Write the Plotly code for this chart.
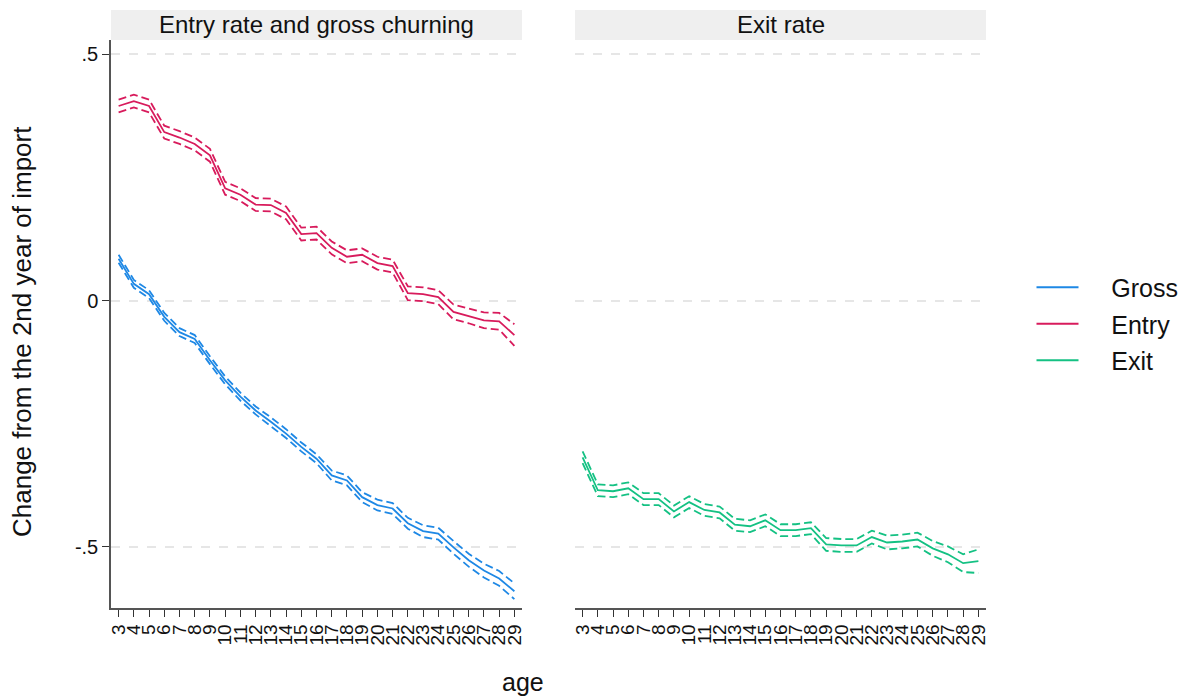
import plotly.graph_objects as go

ages = list(range(3, 30))

gross = [0.085, 0.034, 0.013, -0.033, -0.064, -0.078, -0.121, -0.162, -0.195, -0.223,
         -0.246, -0.270, -0.297, -0.321, -0.355, -0.365, -0.399, -0.415, -0.422, -0.452,
         -0.468, -0.473, -0.501, -0.527, -0.548, -0.564, -0.590]
gross_hi = [0.093, 0.042, 0.021, -0.025, -0.056, -0.070, -0.113, -0.154, -0.187, -0.215,
            -0.237, -0.261, -0.288, -0.312, -0.345, -0.355, -0.389, -0.404, -0.411, -0.441,
            -0.456, -0.461, -0.488, -0.514, -0.534, -0.549, -0.574]
gross_lo = [0.077, 0.026, 0.005, -0.041, -0.072, -0.086, -0.129, -0.170, -0.203, -0.231,
            -0.255, -0.279, -0.306, -0.330, -0.365, -0.375, -0.409, -0.426, -0.433, -0.463,
            -0.480, -0.485, -0.514, -0.540, -0.562, -0.579, -0.606]

entry = [0.395, 0.405, 0.395, 0.342, 0.331, 0.318, 0.295, 0.228, 0.215, 0.195,
         0.194, 0.178, 0.135, 0.137, 0.107, 0.089, 0.093, 0.076, 0.070, 0.015,
         0.013, 0.007, -0.023, -0.031, -0.040, -0.042, -0.070]
entry_hi = [0.408, 0.418, 0.408, 0.355, 0.344, 0.331, 0.308, 0.241, 0.228, 0.208,
            0.207, 0.191, 0.148, 0.150, 0.120, 0.102, 0.106, 0.089, 0.083, 0.029,
            0.027, 0.021, -0.008, -0.016, -0.024, -0.025, -0.048]
entry_lo = [0.382, 0.392, 0.382, 0.329, 0.318, 0.305, 0.282, 0.215, 0.202, 0.182,
            0.181, 0.165, 0.122, 0.124, 0.094, 0.076, 0.080, 0.063, 0.057, 0.001,
            -0.001, -0.007, -0.038, -0.046, -0.056, -0.059, -0.092]

exit_ = [-0.318, -0.385, -0.387, -0.381, -0.403, -0.403, -0.428, -0.409, -0.425, -0.430,
         -0.455, -0.458, -0.446, -0.466, -0.466, -0.462, -0.495, -0.497, -0.497, -0.480,
         -0.491, -0.489, -0.485, -0.503, -0.515, -0.533, -0.529]
exit_hi = [-0.306, -0.373, -0.375, -0.369, -0.391, -0.391, -0.416, -0.397, -0.413, -0.418,
           -0.443, -0.446, -0.434, -0.454, -0.454, -0.450, -0.482, -0.484, -0.484, -0.467,
           -0.477, -0.475, -0.471, -0.488, -0.499, -0.515, -0.505]
exit_lo = [-0.330, -0.397, -0.399, -0.393, -0.415, -0.415, -0.440, -0.421, -0.437, -0.442,
           -0.467, -0.470, -0.458, -0.478, -0.478, -0.474, -0.508, -0.510, -0.510, -0.493,
           -0.505, -0.503, -0.499, -0.518, -0.531, -0.551, -0.553]

y_ticks = [-0.5, 0, 0.5]
y_ticktext = ["-.5", "0", ".5"]
panel_titles = ["Entry rate and gross churning", "Exit rate"]
series_names = ["Gross", "Entry", "Exit"]

C_GROSS = "#1e88e5"
C_ENTRY = "#d81b5c"
C_EXIT = "#14c183"
FONT = "Arial, Liberation Sans, Helvetica, sans-serif"
PAD = "\u00a0" * 4

fig = go.Figure()

series = [
    (series_names[0], gross, gross_lo, gross_hi, C_GROSS, "x", "y"),
    (series_names[1], entry, entry_lo, entry_hi, C_ENTRY, "x", "y"),
    (series_names[2], exit_, exit_lo, exit_hi, C_EXIT, "x2", "y2"),
]
for name, mid, lo, hi, col, xa, ya in series:
    for band in (lo, hi):
        fig.add_trace(go.Scatter(x=ages, y=band, mode="lines", xaxis=xa, yaxis=ya,
                                 line=dict(color=col, width=1.8, dash="8px,4px"),
                                 showlegend=False, hoverinfo="skip"))
for name, mid, lo, hi, col, xa, ya in series:
    fig.add_trace(go.Scatter(x=ages, y=mid, mode="lines", name=PAD + name,
                             legendgroup=name, xaxis=xa, yaxis=ya,
                             line=dict(color=col, width=1.8)))

yr = [-0.624, 0.529]
xr = [2.5, 29.5]
d1 = [0, 411 / 875]
d2 = [464 / 875, 1]

common_x = dict(range=xr, tickvals=ages, ticktext=[str(a) for a in ages], tickangle=-90,
                ticks="outside", ticklen=7, tickcolor="#333", showline=True,
                linecolor="#555", linewidth=1.5, showgrid=False, zeroline=False,
                tickfont=dict(size=19, color="#111", family=FONT))
fig.update_layout(
    width=1186, height=700,
    margin=dict(l=111, r=200, t=40, b=92, autoexpand=False),
    plot_bgcolor="white", paper_bgcolor="white",
    font=dict(family=FONT, color="#111"),
    xaxis=dict(domain=d1, anchor="y", **common_x),
    xaxis2=dict(domain=d2, anchor="y2", **common_x),
    yaxis=dict(domain=[0, 1], range=yr, tickvals=y_ticks, ticktext=y_ticktext,
               ticks="outside", ticklen=7, tickcolor="#333", showline=True,
               linecolor="#555", linewidth=1.5, zeroline=False,
               showgrid=True, gridcolor="#e6e6e6", gridwidth=1.5, griddash="dash",
               tickfont=dict(size=20, color="#111", family=FONT)),
    yaxis2=dict(domain=[0, 1], range=yr, anchor="x2", tickvals=y_ticks,
                showticklabels=False, ticks="", showline=False, zeroline=False,
                showgrid=True, gridcolor="#e6e6e6", gridwidth=1.5, griddash="dash"),
    legend=dict(x=1.052, xanchor="left", y=0.5, yanchor="middle",
                font=dict(size=25, color="#111", family=FONT),
                itemwidth=42, traceorder="grouped", tracegroupgap=1,
                bgcolor="rgba(0,0,0,0)"),
)

# strip headers
strip_top = 1 + 30 / 568
for dom, title in zip([d1, d2], panel_titles):
    fig.add_shape(type="rect", xref="paper", yref="paper", x0=dom[0], x1=dom[1],
                  y0=1, y1=strip_top, fillcolor="#efefef", line=dict(width=0), layer="below")
    fig.add_annotation(x=(dom[0] + dom[1]) / 2, y=(1 + strip_top) / 2, xref="paper",
                       yref="paper", text=title, showarrow=False, xanchor="center",
                       yanchor="middle", font=dict(size=24, color="#111", family=FONT))

fig.add_annotation(x=(523 - 111) / 875, y=(608 - 682) / 568, xref="paper", yref="paper",
                   text="age", showarrow=False, xanchor="center", yanchor="middle",
                   font=dict(size=25, color="#111", family=FONT))
fig.add_annotation(x=(22 - 111) / 875, y=(608 - 332) / 568, xref="paper", yref="paper",
                   text="Change from the 2nd year of import", showarrow=False,
                   textangle=-90, xanchor="center", yanchor="middle",
                   font=dict(size=26, color="#111", family=FONT))

fig.write_html("out.html")
